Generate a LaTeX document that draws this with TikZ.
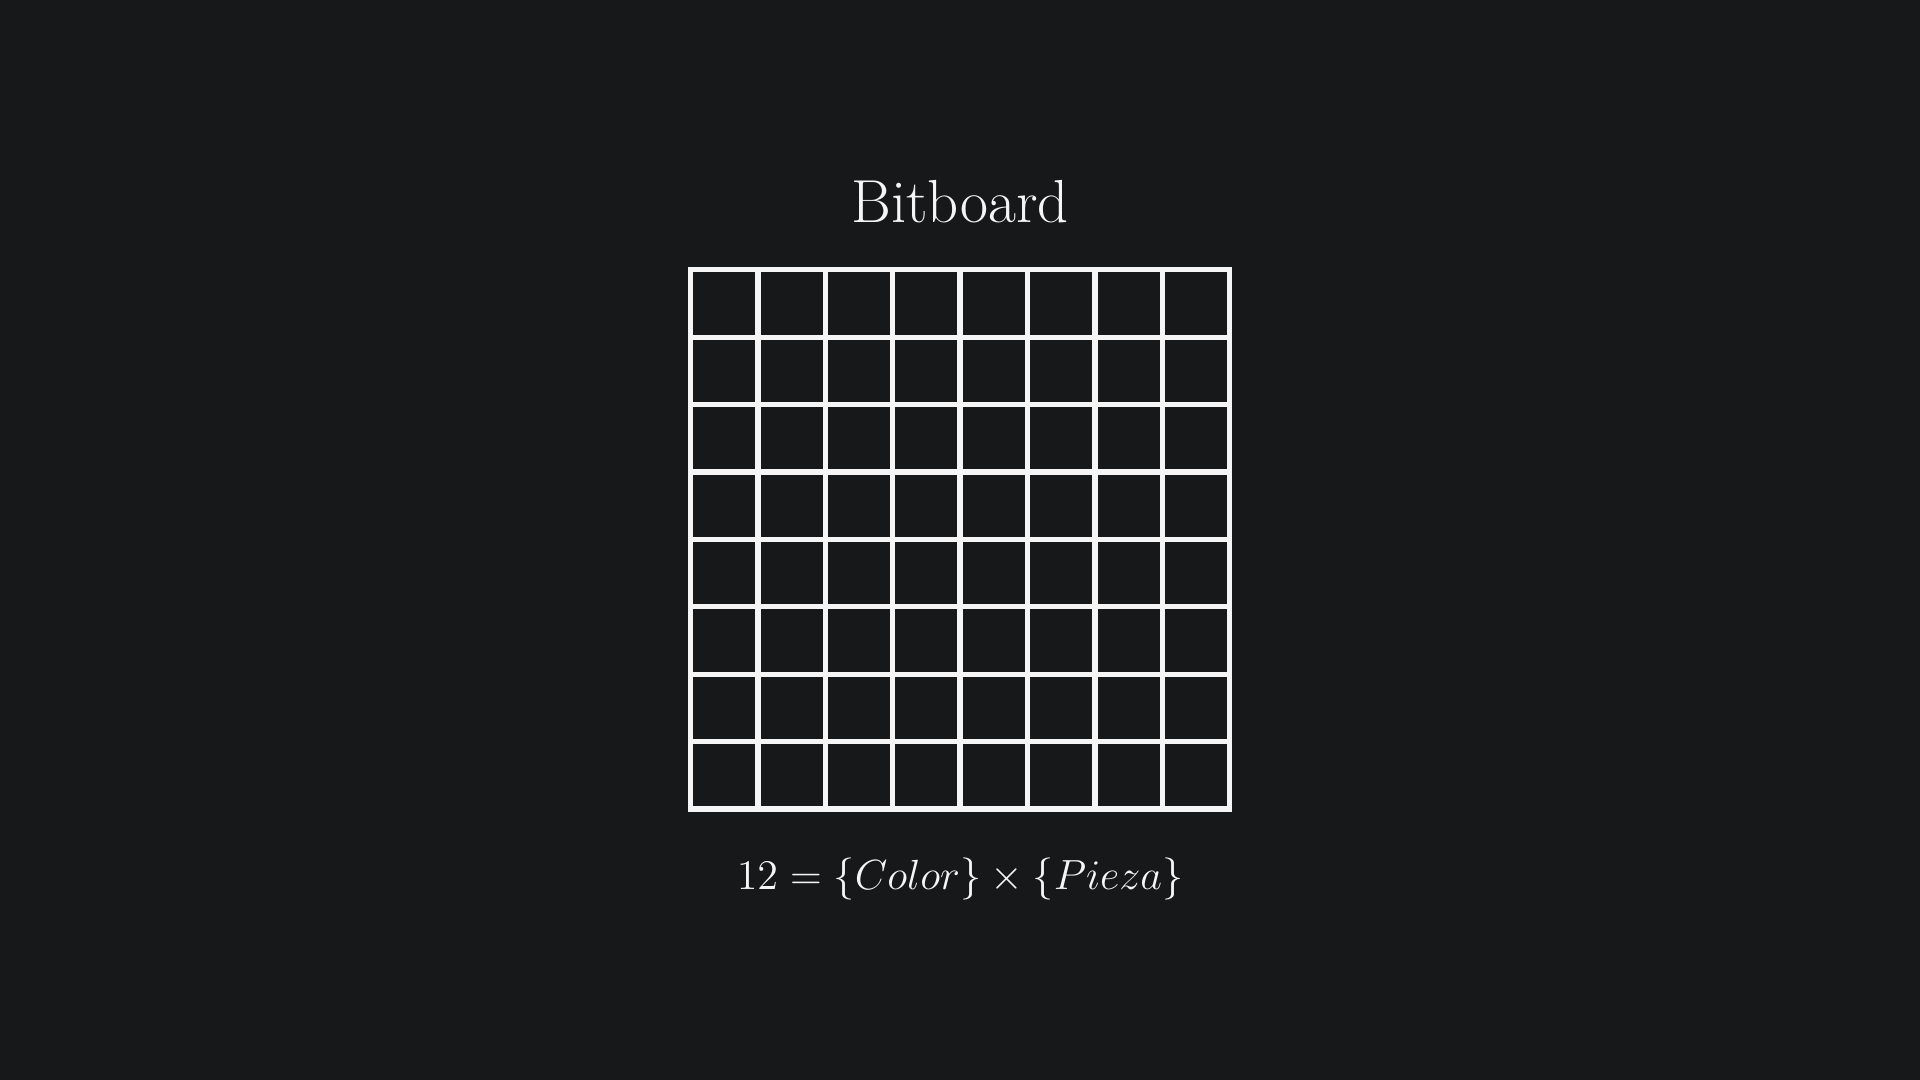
\documentclass[tikz,border=0pt]{standalone}
\usepackage{xcolor}
\definecolor{fondo}{RGB}{23,24,26}
\definecolor{linea}{RGB}{245,245,245}
\begin{document}
\begin{tikzpicture}
    \fill[fondo] (0,0) rectangle (19.2,10.8);
    \coordinate (so) at (6.905, 2.71);
    \node[linea, font=\fontsize{17.3}{21}\selectfont, anchor=base] (titulo) at (9.6, 8.57) {Bitboard};
    \begin{scope}[shift={(so)}, x=0.674cm, y=0.674cm]
        \foreach \i in {1,...,7} {
            \draw[linea, line width=1.5pt] (\i,0) -- (\i,8);
            \draw[linea, line width=1.5pt] (0,\i) -- (8,\i);
        }
        \draw[linea, line width=1.5pt] (0,0) rectangle (8,8);
    \end{scope}
    \node[linea, font=\fontsize{12.5}{15}\selectfont, anchor=base] (formula) at (9.6, 1.90)
        {$12 = \{Color\} \times \{Pieza\}$};
\end{tikzpicture}
\end{document}
